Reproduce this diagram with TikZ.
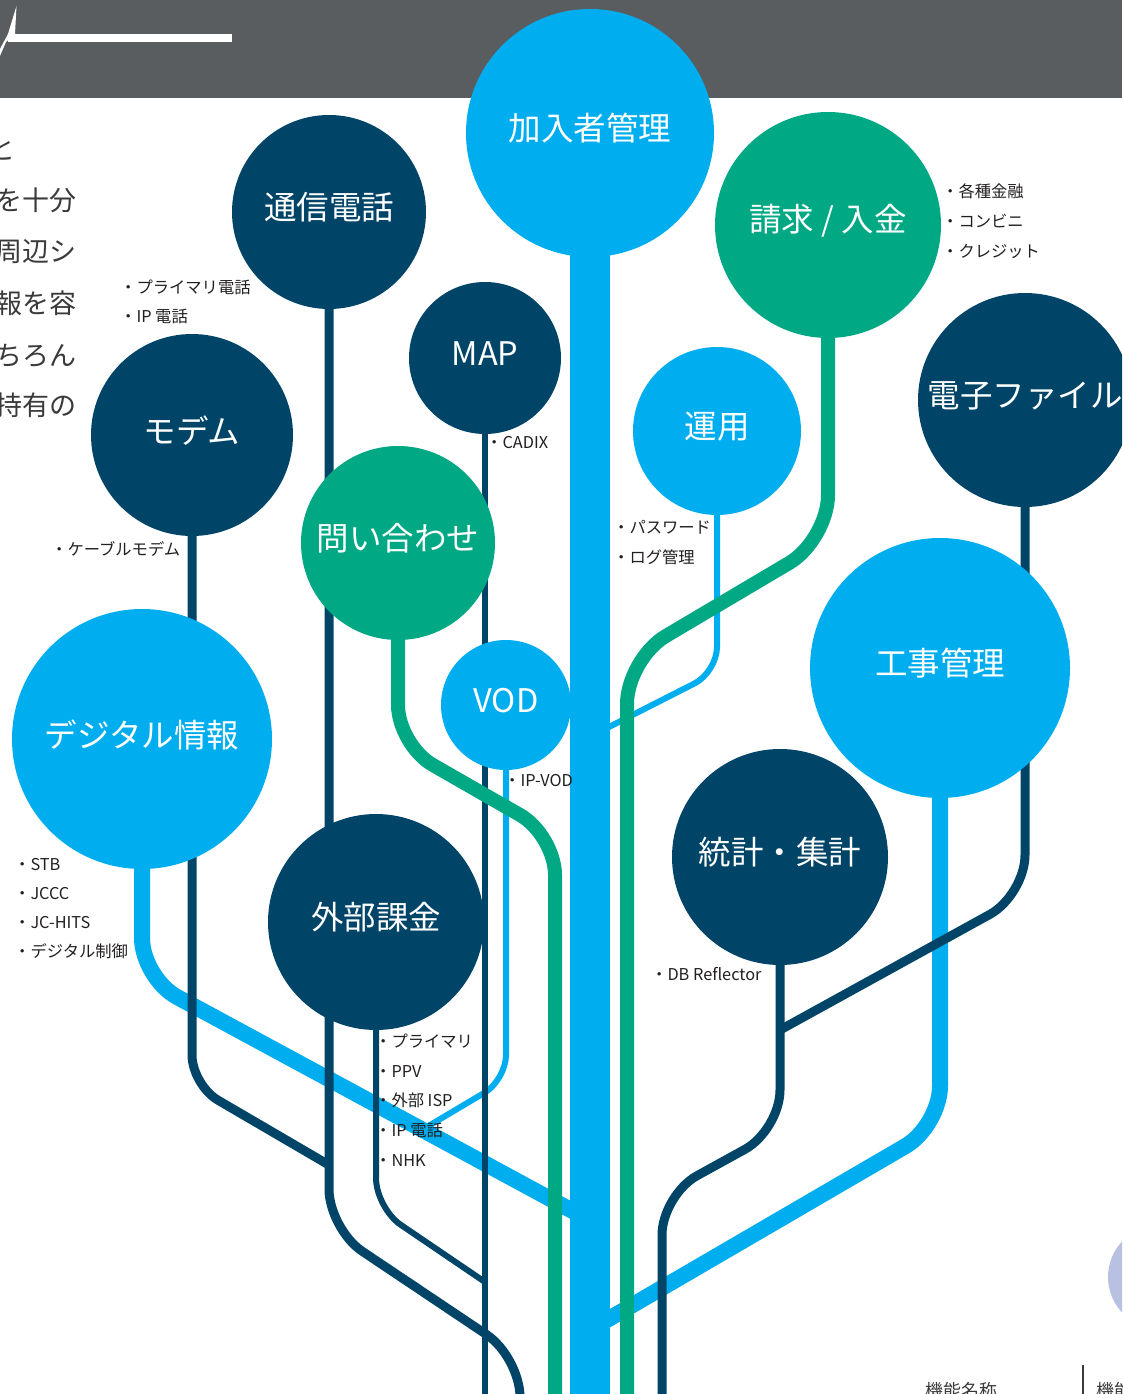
\documentclass[tikz,border=0pt]{standalone}
\usepackage{fontspec}
\setmainfont{Noto Sans CJK JP}
\usetikzlibrary{backgrounds}
\definecolor{lb}{HTML}{00AEEF}
\definecolor{nv}{HTML}{004568}
\definecolor{gr}{HTML}{00A984}
\definecolor{hdr}{HTML}{5A5D60}
\definecolor{lav}{HTML}{B9C1E2}
\definecolor{txt}{HTML}{231F20}
\definecolor{body}{HTML}{3A3A3A}
\newcommand{\ctx}[1]{\raisebox{4.5pt}[\height][\depth]{#1}}
\begin{document}
\begin{tikzpicture}[x=1pt,y=-1pt,
  circ/.style={circle,inner sep=0pt,minimum size=#1,text=white,font=\fontsize{32.5}{36}\selectfont},
  lab/.style={anchor=base west,inner sep=0pt,text=txt,font=\fontsize{16.3}{19}\selectfont},
  bodytext/.style={anchor=base east,inner sep=0pt,text=body,font=\fontsize{27}{30}\selectfont},
  lbline/.style={draw=lb,line width=#1},
  nvline/.style={draw=nv,line width=#1},
  grline/.style={draw=gr,line width=#1}]
\useasboundingbox (0,0) rectangle (1122,1394);
\clip (0,0) rectangle (1122,1394);

% circles
\node[circ=248pt,fill=lb] (kanyu) at (590,133) {\ctx{加入者管理}};
\node[circ=194pt,fill=nv] (tsushin) at (329,212) {\ctx{通信電話}};
\node[circ=226pt,fill=gr] (seikyu) at (828,225) {\ctx{請求 / 入金}};
\node[circ=152pt,fill=nv] (map) at (485,358) {\ctx{MAP}};
\node[circ=202pt,fill=nv] (modem) at (192,435) {\ctx{モデム}};
\node[circ=168pt,fill=lb] (unyo) at (717,431) {\ctx{運用}};
\node[circ=214pt,fill=nv] (denshi) at (1025,400) {\ctx{電子ファイル}};
\node[circ=194pt,fill=gr] (toi) at (398,543) {\ctx{問い合わせ}};
\node[circ=130pt,fill=lb] (vod) at (506,705) {\ctx{VOD}};
\node[circ=260pt,fill=lb] (koji) at (940,668) {\ctx{工事管理}};
\node[circ=260pt,fill=lb] (digital) at (142,739) {\ctx{デジタル情報}};
\node[circ=216pt,fill=nv] (tokei) at (780,857) {\ctx{統計・集計}};
\node[circ=216pt,fill=nv] (gaibu) at (376,922) {\ctx{外部課金}};

% free ends
\coordinate (kanyuE) at (590,1400);
\coordinate (digitalE) at (580,1215);
\coordinate (vodE) at (425,1128);
\coordinate (unyoE) at (605,729);
\coordinate (kojiE) at (600,1324);
\coordinate (tsushinE) at (520,1400);
\coordinate (mapE) at (485,1400);
\coordinate (gaibuE) at (485,1282);
\coordinate (modemE) at (329,1165);
\coordinate (denshiE) at (780,1030);
\coordinate (tokeiE) at (662,1400);
\coordinate (toiE) at (555,1400);
\coordinate (seikyuE) at (627,1400);

\begin{pgfonlayer}{background}
  % header
  \fill[hdr] (0,0) rectangle (1122,98);
  \fill[white] (8,34) rectangle (232,42);
  \fill[white] (16.5,6) -- (15,34) -- (6,42) -- (0,56) -- (0,49) -- (8,34) -- cycle;
  % light blue lines
  \draw[lbline=40pt] (kanyu.center) -- (kanyuE);
  \draw[lbline=16pt,rounded corners=40pt] (digital.center) -- (142,978) -- (digitalE);
  \draw[lbline=6pt,rounded corners=25pt] (vod.center) -- (506,1080) -- (vodE);
  \draw[lbline=6pt,rounded corners=25pt] (unyo.center) -- (717,672) -- (unyoE);
  \draw[lbline=16pt,rounded corners=40pt] (koji.center) -- (940,1126) -- (kojiE);
  % navy lines
  \draw[nvline=9pt,rounded corners=40pt] (tsushin.center) -- (329,1229) -- (520,1357) -- (tsushinE);
  \draw[nvline=5.5pt] (map.center) -- (mapE);
  \draw[nvline=6pt,rounded corners=30pt] (gaibu.center) -- (376,1208) -- (gaibuE);
  \draw[nvline=9pt,rounded corners=30pt] (modem.center) -- (192,1085) -- (modemE);
  \draw[nvline=9pt,rounded corners=40pt] (denshi.center) -- (1025,895) -- (denshiE);
  \draw[nvline=9pt,rounded corners=40pt] (tokei.center) -- (780,1130) -- (662,1195) -- (tokeiE);
  % green lines
  \draw[grline=14pt,rounded corners=40pt] (toi.center) -- (398,745) -- (555,835) -- (toiE);
  \draw[grline=14pt,rounded corners=45pt] (seikyu.center) -- (828,540) -- (627,659) -- (seikyuE);
\end{pgfonlayer}

% left body text (cut off at the page edge, as in the reference)
\node[bodytext] (b1) at (16,160) {と};
\node[bodytext] (b2) at (77,210) {を十分};
\node[bodytext] (b3) at (77,261) {周辺シ};
\node[bodytext] (b4) at (77,313) {報を容};
\node[bodytext] (b5) at (77,365) {ちろん};
\node[bodytext] (b6) at (77,415) {持有の};

% labels
\node[lab] (l1) at (120,293) {・プライマリ電話};
\node[lab] (l2) at (120,322) {・IP 電話};
\node[lab] (l3) at (486,448) {・CADIX};
\node[lab] (l4) at (51,555) {・ケーブルモデム};
\node[lab] (l5) at (942,197) {・各種金融};
\node[lab] (l6) at (942,227) {・コンビニ};
\node[lab] (l7) at (942,257) {・クレジット};
\node[lab] (l8) at (613,533) {・パスワード};
\node[lab] (l9) at (613,563) {・ログ管理};
\node[lab] (l10) at (504,786) {・IP-VOD};
\node[lab] (l11) at (14,870) {・STB};
\node[lab] (l12) at (14,899) {・JCCC};
\node[lab] (l13) at (14,928) {・JC-HITS};
\node[lab] (l14) at (14,957) {・デジタル制御};
\node[lab] (l15) at (375,1047) {・プライマリ};
\node[lab] (l16) at (375,1077) {・PPV};
\node[lab] (l17) at (375,1106) {・外部 ISP};
\node[lab] (l18) at (375,1136) {・IP 電話};
\node[lab] (l19) at (375,1166) {・NHK};
\node[lab] (l20) at (651,980) {・DB Reflector};

% bottom right fragments
\fill[lav] (1160,1277) circle (52pt);
\draw[draw=body,line width=1.2pt] (1083,1365) -- (1083,1394);
\node[anchor=north west,inner sep=0pt,text=body,font=\fontsize{18}{20}\selectfont] (f1) at (925,1382) {機能名称};
\node[anchor=north west,inner sep=0pt,text=body,font=\fontsize{18}{20}\selectfont] (f2) at (1096,1382) {機能};
\end{tikzpicture}
\end{document}
